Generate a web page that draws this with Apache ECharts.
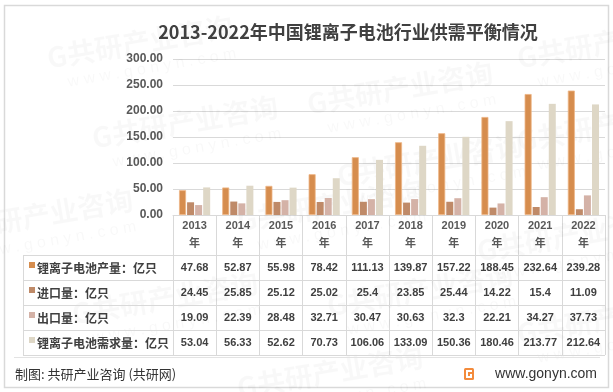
<!DOCTYPE html>
<html><head><meta charset="utf-8">
<script src="https://cdn.jsdelivr.net/npm/echarts@6/dist/echarts.min.js"></script>
<style>html,body{margin:0;padding:0;background:#fff;}#c{width:613px;height:392px;}</style>
</head><body><div id="c"></div>
<script>
const years = ['2013','2014','2015','2016','2017','2018','2019','2020','2021','2022'];
const production = [47.68,52.87,55.98,78.42,111.13,139.87,157.22,188.45,232.64,239.28];
const imports = [24.45,25.85,25.12,25.02,25.4,23.85,25.44,14.22,15.4,11.09];
const exportsVol = [19.09,22.39,28.48,32.71,30.47,30.63,32.3,22.21,34.27,37.73];
const demand = [53.04,56.33,52.62,70.73,106.06,133.09,150.36,180.46,213.77,212.64];
const seriesNames = ['锂离子电池产量：亿只','进口量：亿只','出口量：亿只','锂离子电池需求量：亿只'];
const seriesData = [production, imports, exportsVol, demand];
const colors = ['#D68D4E','#BF8A68','#D4B2A7','#DED7C6'];
const yMin = 0, yMax = 300, yStep = 50;
const titleText = '2013-2022年中国锂离子电池行业供需平衡情况';
const footerLeft = '制图: 共研产业咨询 (共研网)';
const footerRight = 'www.gonyn.com';

const FONT = '"Liberation Sans","Noto Sans CJK SC",sans-serif';
const CJK = '"Noto Sans CJK SC","Liberation Sans",sans-serif';
const GRID_L = 173, GRID_R = 605, GRID_T = 59, AXIS_Y = 215;
const TABLE_L = 23;
const rowLines = [255, 280, 305, 330, 355];

const chart = echarts.init(document.getElementById('c'), null, {renderer:'canvas'});

const series = seriesData.map((d,i)=>({
  name: seriesNames[i], type:'bar', data:d, barWidth:7, barGap:'15%',
  itemStyle:{color:colors[i], borderColor: i===0 ? '#EDB585' : colors[i], borderWidth: i===0 ? 0.8 : 0},
  silent:true
}));

chart.setOption({
  animation:false,
  backgroundColor:'#fff',
  grid:{left:GRID_L, right:613-GRID_R, top:GRID_T, bottom:392-AXIS_Y},
  xAxis:{type:'category', data:years,
    axisLine:{lineStyle:{color:'#d9d9d9'}},
    axisTick:{show:true, length:355-AXIS_Y, lineStyle:{color:'#d9d9d9'}},
    axisLabel:{formatter:v=>v+'\n年', fontSize:11, fontWeight:'bold', color:'#595959', lineHeight:18, margin:2, fontFamily:FONT, interval:0}
  },
  yAxis:{type:'value', min:yMin, max:yMax, interval:yStep,
    axisLine:{show:false}, axisTick:{show:false},
    splitLine:{lineStyle:{color:'#d9d9d9'}},
    axisLabel:{formatter:v=>v.toFixed(2), fontSize:12, fontWeight:'bold', color:'#595959', margin:10, fontFamily:FONT}
  },
  series: series
});

const g = [];
// outer border
g.push({type:'rect', shape:{x:4.5,y:5.5,width:604,height:382}, style:{fill:'none', stroke:'#d9d9d9', lineWidth:1.5}, z:0});
// watermarks
const wm = [[140,42],[400,88],[610,42],[185,122],[430,160],[610,125],[40,215],[330,205],[570,235],[165,298],[420,290],[610,318],[330,372]];
wm.forEach(p=>{
  g.push({type:'text', x:p[0], y:p[1], rotation:0.17, z:1,
    style:{text:'G共研产业咨询', fill:'rgba(0,0,0,0.028)', font:'bold 28px '+CJK, textAlign:'center', textVerticalAlign:'middle'}});
  g.push({type:'text', x:p[0]+12, y:p[1]+26, rotation:0.17, z:1,
    style:{text:'w w w . g o n y n . c o m', fill:'rgba(0,0,0,0.028)', font:'16px '+FONT, textAlign:'center', textVerticalAlign:'middle'}});
});
// title
g.push({type:'text', x:348, y:32, z:10, style:{text:titleText, fill:'#404040', font:'bold 18px '+CJK, textAlign:'center', textVerticalAlign:'middle'}});
// table lines
rowLines.forEach(y=>{
  g.push({type:'line', shape:{x1:TABLE_L,y1:y+0.5,x2:GRID_R,y2:y+0.5}, style:{stroke:'#d9d9d9', lineWidth:1}, z:5});
});
g.push({type:'line', shape:{x1:TABLE_L+0.5,y1:rowLines[0],x2:TABLE_L+0.5,y2:rowLines[rowLines.length-1]}, style:{stroke:'#d9d9d9', lineWidth:1}, z:5});
g.push({type:'line', shape:{x1:14,y1:357.5,x2:600,y2:357.5}, style:{stroke:'#e3e3e3', lineWidth:1}, z:5});
// legend column + values
for (let r=0; r<seriesNames.length; r++){
  const cy = (rowLines[r]+rowLines[r+1])/2 + 0.5;
  g.push({type:'rect', shape:{x:29,y:cy-6,width:6,height:6}, style:{fill:colors[r]}, z:10});
  g.push({type:'text', x:37, y:cy, z:10, style:{text:seriesNames[r], fill:'#404040', font:'bold 12px '+CJK, textAlign:'left', textVerticalAlign:'middle'}});
  for (let c=0; c<years.length; c++){
    const px = chart.convertToPixel({xAxisIndex:0}, years[c]);
    g.push({type:'text', x:px, y:cy, z:10, style:{text:String(seriesData[r][c]), fill:'#404040', font:'bold 11px '+FONT, textAlign:'center', textVerticalAlign:'middle'}});
  }
}
// footer
g.push({type:'text', x:15, y:374, z:10, style:{text:footerLeft, fill:'#333', font:'13px '+CJK, textAlign:'left', textVerticalAlign:'middle'}});
g.push({type:'rect', shape:{x:464,y:368,width:10,height:12,r:1.5}, style:{fill:'#F38B3C'}, z:10});
g.push({type:'rect', shape:{x:466,y:370,width:6,height:2}, style:{fill:'#fff'}, z:11});
g.push({type:'rect', shape:{x:466,y:372,width:2,height:6}, style:{fill:'#fff'}, z:11});
g.push({type:'rect', shape:{x:468,y:376,width:4,height:2}, style:{fill:'#fff'}, z:11});
g.push({type:'rect', shape:{x:470,y:374,width:2,height:2}, style:{fill:'#fff'}, z:11});
g.push({type:'text', x:597, y:374, z:10, style:{text:footerRight, fill:'#333', font:'14px '+FONT, textAlign:'right', textVerticalAlign:'middle'}});

chart.setOption({graphic:{elements:g}});
</script></body></html>
